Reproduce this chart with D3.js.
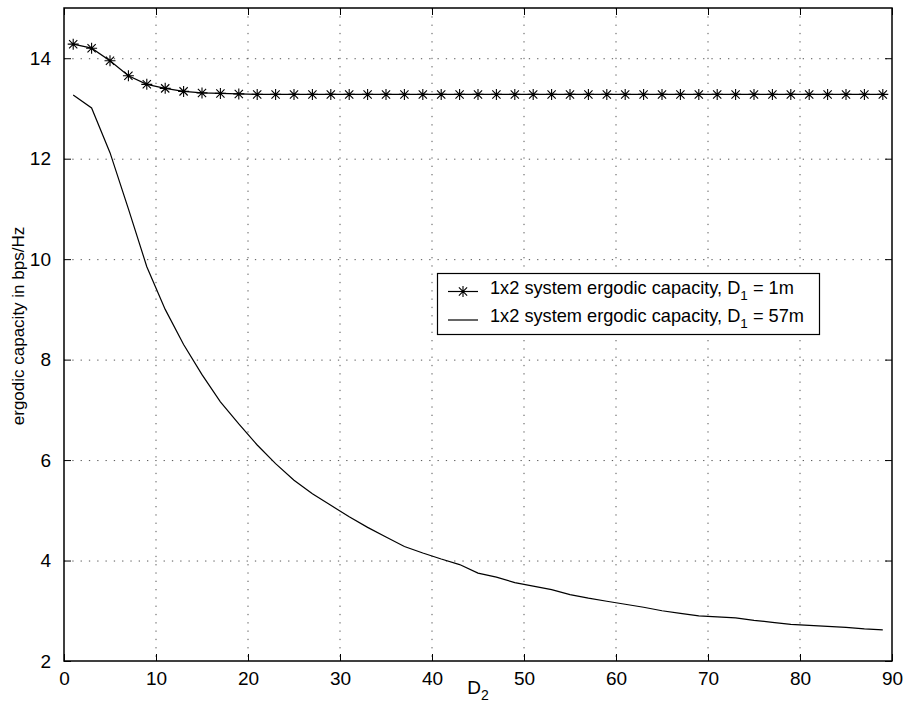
<!DOCTYPE html>
<html><head><meta charset="utf-8">
<script src="https://cdn.jsdelivr.net/npm/d3@7"></script>
<style>body{margin:0;background:#fff}svg{display:block}text{font-family:"Liberation Sans",Arial,sans-serif;fill:#000}</style>
</head><body><svg id="c" width="904" height="712"></svg>
<script>
const d2 = [1,3,5,7,9,11,13,15,17,19,21,23,25,27,29,31,33,35,37,39,41,43,45,47,49,51,53,55,57,59,61,63,65,67,69,71,73,75,77,79,81,83,85,87,89];
const capD1_1m = [14.28,14.2,13.95,13.65,13.48,13.4,13.34,13.31,13.3,13.29,13.28,13.28,13.28,13.28,13.28,13.28,13.28,13.28,13.28,13.28,13.28,13.28,13.28,13.28,13.28,13.28,13.28,13.28,13.28,13.28,13.28,13.28,13.28,13.28,13.28,13.28,13.28,13.28,13.28,13.28,13.28,13.28,13.28,13.28,13.28];
const capD1_57m = [13.27,13.01,12.12,11.0,9.85,9.0,8.3,7.7,7.16,6.72,6.3,5.93,5.6,5.33,5.1,4.87,4.66,4.47,4.28,4.15,4.03,3.92,3.75,3.67,3.56,3.49,3.42,3.32,3.25,3.19,3.13,3.07,3.0,2.95,2.9,2.88,2.86,2.81,2.77,2.73,2.71,2.69,2.67,2.64,2.62];
const xTicks = [0,10,20,30,40,50,60,70,80,90];
const yTicks = [2,4,6,8,10,12,14];
const legendLabels = ["1x2 system ergodic capacity, D", "1x2 system ergodic capacity, D"];
const legendSubs = ["1","1"];
const legendTails = [" = 1m"," = 57m"];

const svg = d3.select("#c");
const L=64,R=892,T=8,B=661;
const x = d3.scaleLinear().domain([0,90]).range([L,R]);
const y = d3.scaleLinear().domain([2,15]).range([B,T]);

// grid
const g = svg.append("g");
xTicks.slice(1,-1).forEach(t=>g.append("line").attr("x1",x(t)).attr("x2",x(t)).attr("y1",T).attr("y2",B)
  .attr("stroke","#555").attr("stroke-dasharray","1.3,7").attr("stroke-width",1));
yTicks.slice(1).forEach(t=>g.append("line").attr("x1",L).attr("x2",R).attr("y1",y(t)+0.5).attr("y2",y(t)+0.5)
  .attr("stroke","#555").attr("stroke-dasharray","1.3,7").attr("stroke-width",1));

// axes
const tk=7;
const ax = svg.append("g").attr("transform",`translate(0,${B})`).call(d3.axisBottom(x).tickValues(xTicks).tickSizeInner(-tk).tickSizeOuter(0).tickPadding(tk+4));
const axT = svg.append("g").attr("transform",`translate(0,${T})`).call(d3.axisTop(x).tickValues(xTicks).tickSizeInner(-tk).tickSizeOuter(0).tickFormat(""));
const ay = svg.append("g").attr("transform",`translate(${L},0)`).call(d3.axisLeft(y).tickValues(yTicks).tickSizeInner(-tk).tickSizeOuter(0).tickPadding(tk+6));
const ayR = svg.append("g").attr("transform",`translate(${R},0)`).call(d3.axisRight(y).tickValues(yTicks).tickSizeInner(-tk).tickSizeOuter(0).tickFormat(""));
[ax,axT,ay,ayR].forEach(a=>{a.select(".domain").remove();a.selectAll("line").attr("stroke","#000");a.selectAll("text").attr("font-size",19).attr("font-family","Liberation Sans, Arial, sans-serif").attr("fill","#000");});
svg.append("rect").attr("x",L).attr("y",T).attr("width",R-L).attr("height",B-T).attr("fill","none").attr("stroke","#000").attr("stroke-width",1.5);

// lines
const line = d3.line().x((d,i)=>x(d2[i])).y(d=>y(d));
svg.append("path").attr("d",line(capD1_57m)).attr("fill","none").attr("stroke","#000").attr("stroke-width",1.2);
svg.append("path").attr("d",line(capD1_1m)).attr("fill","none").attr("stroke","#000").attr("stroke-width",1.2);
function star(gr,cx,cy,r){
  const p=`M${cx-r},${cy}H${cx+r}M${cx},${cy-r}V${cy+r}M${cx-r*0.75},${cy-r*0.75}L${cx+r*0.75},${cy+r*0.75}M${cx-r*0.75},${cy+r*0.75}L${cx+r*0.75},${cy-r*0.75}`;
  gr.append("path").attr("d",p).attr("stroke","#000").attr("stroke-width",1.1).attr("fill","none");
}
const sg=svg.append("g");
capD1_1m.forEach((v,i)=>star(sg,x(d2[i]),y(v),5.5));

// labels
svg.append("text").attr("transform",`translate(24,326) rotate(-90)`).attr("text-anchor","middle").attr("font-size",17).text("ergodic capacity in bps/Hz");
const xl=svg.append("text").attr("x",(L+R)/2).attr("y",694).attr("text-anchor","middle").attr("font-size",19);
xl.append("tspan").text("D");
xl.append("tspan").attr("dy",6).attr("font-size",14).text("2");

// legend
const lg=svg.append("g");
lg.append("rect").attr("x",437.5).attr("y",273.5).attr("width",382).attr("height",61).attr("fill","#fff").attr("stroke","#000").attr("stroke-width",1.2);
[0,1].forEach(i=>{
  const ly=291.5+i*28.5;
  lg.append("line").attr("x1",448).attr("x2",478).attr("y1",ly).attr("y2",ly).attr("stroke","#000").attr("stroke-width",1.2);
  if(i===0) star(lg,463,ly,5.5);
  const t=lg.append("text").attr("x",490).attr("y",ly+2).attr("font-size",18.2);
  t.append("tspan").text(legendLabels[i]);
  t.append("tspan").attr("dy",6).attr("font-size",13.5).text(legendSubs[i]);
  t.append("tspan").attr("dy",-6).text(legendTails[i]);
});
</script></body></html>
